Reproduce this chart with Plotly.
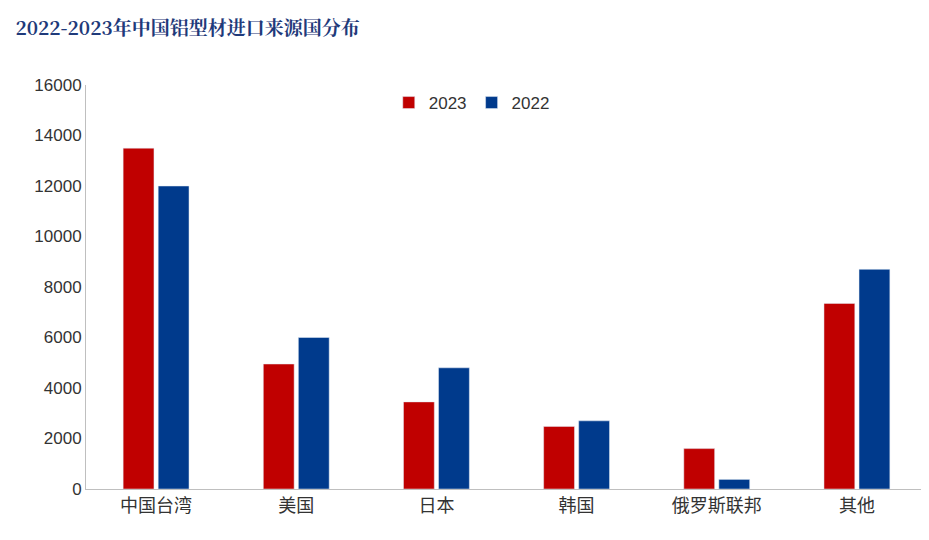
import plotly.graph_objects as go

categories = ["中国台湾", "美国", "日本", "韩国", "俄罗斯联邦", "其他"]
v2023 = [13500, 4950, 3450, 2480, 1600, 7350]
v2022 = [12000, 6000, 4800, 2700, 380, 8700]

fig = go.Figure()
fig.add_bar(x=categories, y=v2023, name="2023", marker_color="#C00000")
fig.add_bar(x=categories, y=v2022, name="2022", marker_color="#003A8C")
fig.update_layout(
    width=929, height=540, plot_bgcolor="white", paper_bgcolor="white",
    margin=dict(l=78, r=10, t=77, b=59),
    bargap=0.5, bargroupgap=0.12,
    font=dict(family="Noto Sans CJK SC, Arial", size=17, color="#333"),
    title=dict(text="<b>2022-2023年中国铝型材进口来源国分布</b>", x=0.008, y=0.962, yanchor="middle",
               font=dict(family="Noto Serif CJK SC, Noto Sans CJK SC", size=19, color="#1F3A7A")),
    legend=dict(orientation="h", x=0.36, y=1.0, yanchor="top", font=dict(size=17, family="Liberation Sans"),
                itemwidth=30, bgcolor="rgba(0,0,0,0)"),
    yaxis=dict(range=[0, 16000], dtick=2000, showgrid=False, showline=True, tickformat="d",
               linecolor="#BFBFBF", ticks="", tickfont=dict(size=17, family="Liberation Sans")),
    xaxis=dict(showline=True, linecolor="#BFBFBF", ticks="", tickfont=dict(size=18)),
)
fig.write_html("out.html")
